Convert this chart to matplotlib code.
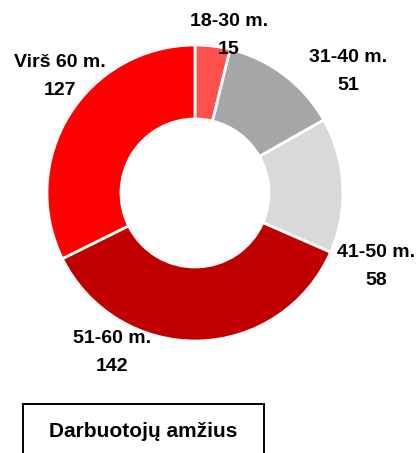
import matplotlib
matplotlib.use("Agg")
import matplotlib.pyplot as plt
from matplotlib.patches import Rectangle
from matplotlib import font_manager

categories = ["18-30 m.", "31-40 m.", "41-50 m.", "51-60 m.", "Virš 60 m."]
values = [15, 51, 58, 142, 127]
colors = ["#ff5050", "#a6a6a6", "#d9d9d9", "#c00000", "#ff0000"]
title = "Darbuotojų amžius"

W, H = 417, 453
names = {f.name for f in font_manager.fontManager.ttflist}
fam = 'Liberation Sans Narrow' if 'Liberation Sans Narrow' in names else 'Liberation Sans'
narrow = fam == 'Liberation Sans Narrow'
plt.rcParams['font.family'] = [fam, 'DejaVu Sans']
lab_fs = 16.5 if narrow else 14
tit_fs = 17.5 if narrow else 15

fig = plt.figure(figsize=(W / 100, H / 100), dpi=100)
ax = fig.add_axes([0, 0, 1, 1])

def fy(y):
    return H - y

cx, cy, R = 195, 193, 148
ax.pie(values, colors=colors, startangle=90, counterclock=False,
       center=(cx, fy(cy)), radius=R, frame=True,
       wedgeprops=dict(width=R * 0.5, edgecolor='white', linewidth=2))
ax.set_xlim(0, W)
ax.set_ylim(0, H)
ax.set_aspect('equal')
ax.axis('off')

# label anchor: (center x, baseline of first line) in pixels
label_pos = [(229, 26), (348, 62), (376, 257), (112, 343), (60, 67)]
gap = 28
for name, v, (x, y) in zip(categories, values, label_pos):
    ax.text(x, fy(y), name, ha='center', va='baseline', fontsize=lab_fs, fontweight='bold')
    ax.text(x, fy(y + gap), str(v), ha='center', va='baseline', fontsize=lab_fs, fontweight='bold')

ax.add_patch(Rectangle((23, fy(470)), 241, 66, fill=False, edgecolor='black',
                       linewidth=1.4, clip_on=True))
ax.text(143.5, fy(437), title, ha='center', va='baseline', fontsize=tit_fs, fontweight='bold')

fig.savefig("out.png", dpi=100)
